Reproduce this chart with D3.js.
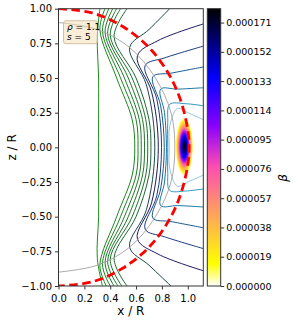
<!DOCTYPE html>
<html>
<head>
<meta charset="utf-8">
<script src="https://cdn.jsdelivr.net/npm/d3@7"></script>
<style>
  body { margin: 0; background: #fff; }
  svg { display: block; font-family: "DejaVu Sans", sans-serif; }
</style>
</head>
<body>
<svg id="chart" width="298" height="322"></svg>
<script>
// ---- data ----
const xTicks = [0, 0.2, 0.4, 0.6, 0.8, 1.0];
const zTicks = [-1, -0.75, -0.5, -0.25, 0, 0.25, 0.5, 0.75, 1];
const betaTicks = [0, 0.000019, 0.000038, 0.000057, 0.000076, 0.000095, 0.000114, 0.000133, 0.000152, 0.000171];
const betaMax = 0.00018;

// flux contour lines, [x/R, z/R] points, with their colour-map level (0..1)
const contourLevels = [0.0, 0.02, 0.035, 0.05, 0.065, 0.08, 0.1, 0.21, 0.33, 0.43, 0.52, 0.6, 0.7, 0.84];
const contourLines = [
  [[0.32, 1], [0.30, 0.8], [0.31, 0.5], [0.31, 0.2], [0.31, 0], [0.31, -0.2], [0.31, -0.5], [0.30, -0.8], [0.34, -1]],
  [[0.36, 1], [0.32, 0.85], [0.45, 0.5], [0.57, 0.2], [0.59, 0], [0.57, -0.2], [0.45, -0.5], [0.32, -0.85], [0.37, -1]],
  [[0.39, 1], [0.34, 0.84], [0.48, 0.5], [0.60, 0.2], [0.615, 0], [0.60, -0.2], [0.48, -0.5], [0.34, -0.84], [0.40, -1]],
  [[0.42, 1], [0.36, 0.83], [0.51, 0.5], [0.625, 0.2], [0.64, 0], [0.625, -0.2], [0.51, -0.5], [0.36, -0.83], [0.43, -1]],
  [[0.45, 1], [0.38, 0.82], [0.54, 0.5], [0.65, 0.2], [0.665, 0], [0.65, -0.2], [0.54, -0.5], [0.38, -0.82], [0.46, -1]],
  [[0.48, 1], [0.40, 0.81], [0.57, 0.5], [0.675, 0.2], [0.69, 0], [0.675, -0.2], [0.57, -0.5], [0.40, -0.81], [0.49, -1]],
  [[0.53, 1], [0.43, 0.8], [0.60, 0.5], [0.70, 0.2], [0.715, 0], [0.70, -0.2], [0.60, -0.5], [0.43, -0.8], [0.53, -1]],
  [[0.86, 1], [0.7, 0.85], [0.55, 0.72], [0.68, 0.45], [0.745, 0], [0.68, -0.45], [0.55, -0.72], [0.7, -0.85], [0.87, -1]],
  [[1.12, 0.89], [0.77, 0.77], [0.61, 0.66], [0.72, 0.4], [0.772, 0], [0.72, -0.4], [0.61, -0.66], [0.77, -0.77], [1.12, -0.89]],
  [[1.12, 0.73], [0.82, 0.645], [0.67, 0.59], [0.76, 0.35], [0.797, 0], [0.76, -0.35], [0.67, -0.59], [0.82, -0.645], [1.12, -0.73]],
  [[1.12, 0.58], [0.87, 0.535], [0.73, 0.51], [0.79, 0.3], [0.818, 0], [0.79, -0.3], [0.73, -0.51], [0.87, -0.535], [1.12, -0.58]],
  [[1.12, 0.43], [0.92, 0.42], [0.79, 0.42], [0.82, 0.25], [0.835, 0], [0.82, -0.25], [0.79, -0.42], [0.92, -0.42], [1.12, -0.43]],
  [[1.12, 0.3], [0.98, 0.315], [0.86, 0.31], [0.845, 0.18], [0.845, 0], [0.845, -0.18], [0.86, -0.31], [0.98, -0.315], [1.12, -0.3]],
  [[1.12, 0.2], [1.0, 0.25], [0.92, 0.28], [0.86, 0.15], [0.857, 0], [0.86, -0.15], [0.92, -0.28], [1.0, -0.25], [1.12, -0.2]]
];

// grey reference curve and red dashed boundary
const greyCurve = [[0, 0.9], [0.3, 0.85], [0.55, 0.72], [0.75, 0.5], [0.87, 0.25], [0.9, 0], [0.87, -0.25], [0.75, -0.5], [0.55, -0.72], [0.3, -0.85], [0, -0.9]];
const redCurve = [[0, 1], [0.26, 0.97], [0.5, 0.87], [0.71, 0.71], [0.87, 0.5], [0.97, 0.26], [1.01, 0], [0.97, -0.26], [0.87, -0.5], [0.71, -0.71], [0.5, -0.87], [0.26, -0.97], [0, -1]];

// pressure spot: centre, semi-axes, and beta profile along the normalised radius
const spotCentre = [0.973, 0.005];
const spotRadii = [0.068, 0.21];
const spotRadius = [0, 0.12, 0.25, 0.38, 0.5, 0.62, 0.74, 0.86, 0.95, 1];
const spotBeta = [0.000178, 0.00017, 0.00015, 0.00013, 0.0001, 0.00007, 0.000045, 0.000022, 0.000006, 0];

const legendLines = [["ρ", " = 1.1"], ["s", " = 5"]];

// ---- colour maps ----
const clip = v => Math.max(0, Math.min(1, v));
function ocean(t) {
  const r = clip(3 * t - 2), g = clip(Math.abs(1.5 * t - 0.5)), b = clip(t);
  return d3.rgb(r * 255, g * 255, b * 255).toString();
}
function gnuplot2(x) {
  const r = clip(x / 0.32 - 0.78125);
  const g = clip(2 * x - 0.84);
  let b;
  if (x < 0.25) b = 4 * x;
  else if (x < 0.42) b = 1;
  else if (x < 0.92) b = -2 * x + 1.84;
  else b = x / 0.08 - 11.5;
  return d3.rgb(r * 255, g * 255, clip(b) * 255).toString();
}
const betaColor = v => gnuplot2(1 - v / betaMax);

// ---- layout ----
const margin = { top: 8.7, left: 58.5 };
const plotW = 144.8, plotH = 277.3;
const svg = d3.select('#chart');

const x = d3.scaleLinear().domain([0, 1.12]).range([0, plotW]);
const y = d3.scaleLinear().domain([-1, 1]).range([plotH, 0]);

const defs = svg.append('defs');
defs.append('clipPath').attr('id', 'plot-clip')
  .append('rect').attr('width', plotW).attr('height', plotH);

const chart = svg.append('g').attr('transform', `translate(${margin.left},${margin.top})`);
const inner = chart.append('g').attr('clip-path', 'url(#plot-clip)');

// pressure spot
const grad = defs.append('radialGradient').attr('id', 'spot-grad');
grad.selectAll('stop').data(spotRadius).join('stop')
  .attr('offset', d => d)
  .attr('stop-color', (d, i) => betaColor(spotBeta[i]));
inner.append('ellipse')
  .attr('cx', x(spotCentre[0])).attr('cy', y(spotCentre[1]))
  .attr('rx', x(spotRadii[0]) - x(0)).attr('ry', y(0) - y(spotRadii[1]))
  .attr('fill', 'url(#spot-grad)');

const line = d3.line().x(d => x(d[0])).y(d => y(d[1])).curve(d3.curveCatmullRom.alpha(0.5));

inner.selectAll('.contour').data(contourLines).join('path')
  .attr('class', 'contour')
  .attr('d', line)
  .attr('fill', 'none')
  .attr('stroke', (d, i) => ocean(contourLevels[i]))
  .attr('stroke-width', 0.9);

inner.append('path').attr('d', line(greyCurve))
  .attr('fill', 'none').attr('stroke', '#a0a0a0').attr('stroke-width', 0.9);

inner.append('path').attr('d', line(redCurve))
  .attr('fill', 'none').attr('stroke', '#ff0000').attr('stroke-width', 2.8)
  .attr('stroke-dasharray', '8.5,4.5');

// axes
const xAxis = d3.axisBottom(x).tickValues(xTicks).tickFormat(d3.format('.1f')).tickSize(3.5).tickSizeOuter(0);
const yAxis = d3.axisLeft(y).tickValues(zTicks).tickFormat(d => d3.format('.2f')(d).replace('-', '\u2212')).tickSize(3.5).tickSizeOuter(0);
const xg = chart.append('g').attr('transform', `translate(0,${plotH})`).call(xAxis);
const yg = chart.append('g').call(yAxis);
[xg, yg].forEach(g => {
  g.select('.domain').remove();
  g.selectAll('.tick line').attr('stroke', '#000').attr('stroke-width', 0.8);
  g.selectAll('.tick text').attr('fill', '#000').style('font-size', '10px').style('font-family', '"DejaVu Sans", sans-serif');
});
xg.selectAll('.tick text').attr('dy', '0.95em');

chart.append('rect').attr('width', plotW).attr('height', plotH)
  .attr('fill', 'none').attr('stroke', '#333').attr('stroke-width', 1);

svg.append('text').attr('x', margin.left + plotW / 2).attr('y', 315)
  .attr('text-anchor', 'middle').style('font-size', '12px').text('x / R');
svg.append('text').attr('transform', `translate(16,${margin.top + plotH / 2}) rotate(-90)`)
  .attr('text-anchor', 'middle').style('font-size', '12px').text('z / R');

// legend box
const leg = chart.append('g').attr('transform', 'translate(5,12)');
leg.append('rect').attr('width', 34).attr('height', 23).attr('rx', 2.5)
  .attr('fill', '#f5deb3').attr('fill-opacity', 0.5)
  .attr('stroke', '#c9b48f').attr('stroke-width', 0.8);
leg.selectAll('text').data(legendLines).join('text')
  .attr('x', 3.5).attr('y', (d, i) => 9.5 + i * 10)
  .style('font-size', '9px')
  .each(function (d) {
    const t = d3.select(this);
    t.append('tspan').style('font-style', 'italic').text(d[0]);
    t.append('tspan').text(d[1]);
  });

// colour bar
const cbX = 207.3, cbW = 13.4;
const cb = svg.append('g').attr('transform', `translate(${cbX},${margin.top})`);
const cbScale = d3.scaleLinear().domain([0, betaMax]).range([plotH, 0]);
const cbGrad = defs.append('linearGradient').attr('id', 'cb-grad')
  .attr('x1', 0).attr('y1', 1).attr('x2', 0).attr('y2', 0);
cbGrad.selectAll('stop').data(d3.range(0, 1.0001, 0.02)).join('stop')
  .attr('offset', d => d)
  .attr('stop-color', d => gnuplot2(1 - d));
cb.append('rect').attr('width', cbW).attr('height', plotH).attr('fill', 'url(#cb-grad)');
const cbAxis = d3.axisRight(cbScale).tickValues(betaTicks).tickFormat(d3.format('.6f')).tickSize(3.5).tickSizeOuter(0);
const cbg = cb.append('g').attr('transform', `translate(${cbW},0)`).call(cbAxis);
cbg.select('.domain').remove();
cbg.selectAll('.tick line').attr('stroke', '#000').attr('stroke-width', 0.8);
cbg.selectAll('.tick text').attr('fill', '#000').attr('x', 5.5).style('font-size', '9.5px').style('font-family', '"DejaVu Sans", sans-serif');
cb.append('rect').attr('width', cbW).attr('height', plotH)
  .attr('fill', 'none').attr('stroke', '#333').attr('stroke-width', 1);
svg.append('text').attr('transform', 'translate(287,178) rotate(-90)')
  .attr('text-anchor', 'middle').style('font-size', '12px').style('font-style', 'italic').text('β');
</script>
</body>
</html>
